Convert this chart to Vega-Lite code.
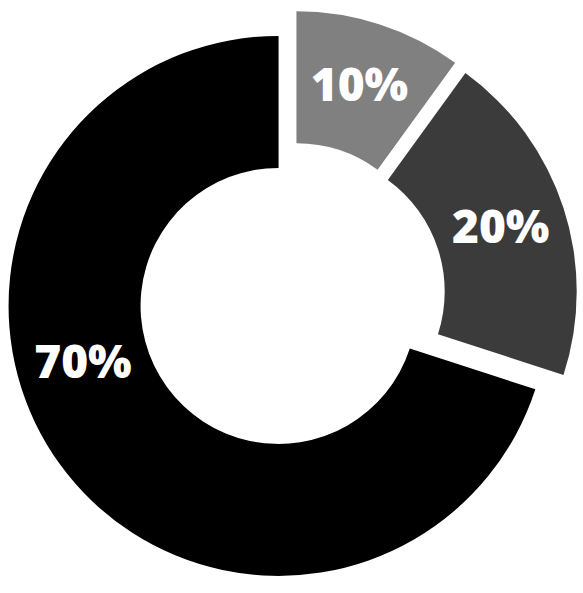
{
  "$schema": "https://vega.github.io/schema/vega-lite/v6.json",
  "width": 583,
  "height": 593,
  "autosize": {"type": "fit", "contains": "padding"},
  "padding": 0,
  "background": "white",
  "view": {"stroke": null},
  "data": {
    "values": [
      {"label": "10%", "value": 10},
      {"label": "20%", "value": 20},
      {"label": "70%", "value": 70}
    ]
  },
  "encoding": {
    "theta": {"field": "value", "type": "quantitative", "stack": true},
    "order": {"field": "value", "sort": "ascending"}
  },
  "layer": [
    {
      "mark": {
        "type": "arc",
        "outerRadius": 270,
        "innerRadius": 138,
        "x": {"expr": "width/2 + 16*sin(PI*(datum.value_start+datum.value_end)/100)"},
        "y": {"expr": "height/2 - 16*cos(PI*(datum.value_start+datum.value_end)/100)"}
      },
      "encoding": {
        "color": {
          "field": "label",
          "type": "nominal",
          "scale": {"domain": ["10%", "20%", "70%"], "range": ["#808080", "#3b3b3b", "#000000"]},
          "legend": null
        }
      }
    },
    {
      "mark": {
        "type": "text",
        "radius": 204,
        "font": "Open Sans",
        "fontWeight": 800,
        "fontSize": 46,
        "align": "center",
        "baseline": "middle",
        "thetaOffset": {"expr": "datum.value == 70 ? 0.34 : 0"},
        "x": {"expr": "width/2 + 16*sin(PI*(datum.value_start+datum.value_end)/100)"},
        "y": {"expr": "height/2 - 16*cos(PI*(datum.value_start+datum.value_end)/100)"}
      },
      "encoding": {
        "text": {"field": "label"},
        "color": {"value": "white"}
      }
    }
  ]
}
